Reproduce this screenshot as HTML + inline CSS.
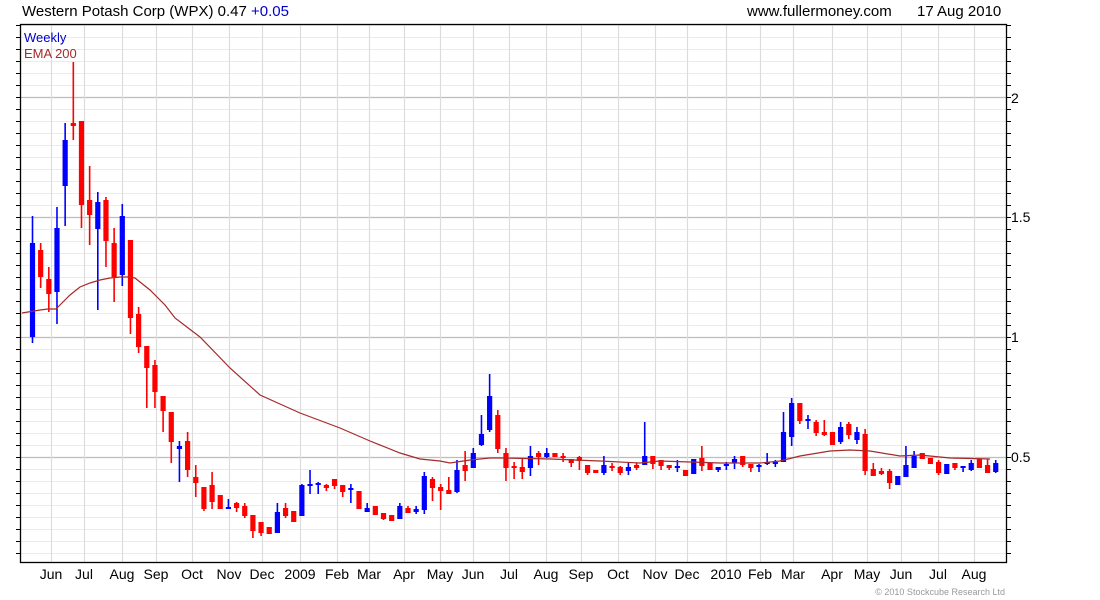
<!DOCTYPE html>
<html><head><meta charset="utf-8"><style>
body{margin:0;background:#fff;width:1100px;height:600px;overflow:hidden}
svg{display:block;font-family:"Liberation Sans",sans-serif}
</style></head><body>
<svg id="s" width="1100" height="600" xmlns="http://www.w3.org/2000/svg">
<g id="grid"></g>
<g id="candles"></g>
<polyline id="ema" fill="none" stroke="#a52a2a" stroke-width="1.2" points=""/>
<rect x="20.5" y="24.5" width="986" height="538" fill="none" stroke="#000" stroke-width="1.3"/>
<g id="ticks" stroke="#000" stroke-width="1"></g>
<text x="22" y="16" font-size="15" fill="#000">Western Potash Corp (WPX) 0.47 <tspan fill="#0000cc">+0.05</tspan></text>
<text x="747" y="16" font-size="15" fill="#000">www.fullermoney.com</text>
<text x="917" y="16" font-size="15" fill="#000">17 Aug 2010</text>
<text x="24" y="42" font-size="13" fill="#0000cc">Weekly</text>
<text x="24" y="58" font-size="13" fill="#a52a2a">EMA 200</text>
<g font-size="14" fill="#000">
<text x="1011" y="103">2</text>
<text x="1011" y="222">1.5</text>
<text x="1011" y="342">1</text>
<text x="1011" y="462">0.5</text>
</g>
<g font-size="14" fill="#000" text-anchor="middle">
<text x="51" y="579">Jun</text><text x="84" y="579">Jul</text><text x="122" y="579">Aug</text><text x="156" y="579">Sep</text><text x="192" y="579">Oct</text><text x="229" y="579">Nov</text><text x="262" y="579">Dec</text><text x="300" y="579">2009</text><text x="337" y="579">Feb</text><text x="369" y="579">Mar</text><text x="404" y="579">Apr</text><text x="440" y="579">May</text><text x="473" y="579">Jun</text><text x="509" y="579">Jul</text><text x="546" y="579">Aug</text><text x="581" y="579">Sep</text><text x="618" y="579">Oct</text><text x="655" y="579">Nov</text><text x="687" y="579">Dec</text><text x="726" y="579">2010</text><text x="760" y="579">Feb</text><text x="793" y="579">Mar</text><text x="832" y="579">Apr</text><text x="867" y="579">May</text><text x="901" y="579">Jun</text><text x="938" y="579">Jul</text><text x="974" y="579">Aug</text>
</g>
<text x="1005" y="595" font-size="9" fill="#999" text-anchor="end">© 2010 Stockcube Research Ltd</text>
</svg>
<script>
var NS="http://www.w3.org/2000/svg";
function el(p,t,a){var e=document.createElementNS(NS,t);for(var k in a)e.setAttribute(k,a[k]);p.appendChild(e);return e;}
var g=document.getElementById('grid'),tk=document.getElementById('ticks');
function yp(p){return 456.7-(p-0.5)*239.8;}
var months=[51,84,122,156,192,229,262,300,337,369,404,440,473,509,546,581,618,655,687,726,760,793,832,867,901,938,974];
for(var i=2;i<=46;i++){var p=i*0.05,y=Math.round(yp(p))+0.5;if(y<25||y>562)continue;
 var maj=(i%10==0);
 el(g,'line',{x1:21,x2:1006,y1:y,y2:y,stroke:maj?'#bdbdbd':'#ebebeb','stroke-width':maj?1.3:1});
 el(tk,'line',{x1:1006,x2:1011,y1:y,y2:y});el(tk,'line',{x1:16,x2:20,y1:y,y2:y});}
months.forEach(function(x){el(g,'line',{x1:x+.5,x2:x+.5,y1:25,y2:562,stroke:'#dcdcdc','stroke-width':1.2});});
var d=[
['b',216,343,243,337],['r',243,288,250,277],['r',267,312,279,294],['b',207,324,228,292],['b',123,226,140,186],['r',62,140,123,126],['r',121,228,121,205],['r',166,245,200,215],['b',192,310,202,229],['r',197,267,200,241],['r',228,302,243,277],['b',204,286,216,275],['r',240,334,240,318],['r',307,353,314,347],['r',346,408,346,368],['r',360,408,365,392],['r',396,432,396,411],['r',412,463,412,442],['b',441,482,446,449],['r',432,477,441,470],['r',465,497,477,483],['r',487,511,487,509],['r',472,509,485,502],['r',495,509,495,509],['b',499,509,507,509],['r',502,512,503,508],['r',503,518,506,516],['r',515,538,515,531],['r',522,536,522,533],['r',527,534,527,534],['b',503,533,512,533],['r',503,518,508,516],['r',511,522,511,522],['b',484,516,485,516],['b',470,494,484,486],['b',482,494,483,485],['r',484,491,485,488],['r',479,489,479,486],['r',485,497,485,492],['b',484,503,488,490],['r',491,509,491,509],['b',503,512,508,512],['r',506,515,506,515],['r',513,520,513,519],['r',515,521,515,521],['b',503,519,506,519],['r',506,513,508,513],['b',506,514,509,512],['b',472,514,476,510],['r',477,501,479,488],['r',484,510,487,491],['r',477,494,490,494],['b',460,493,470,492],['r',451,481,465,471],['b',448,468,453,468],['b',415,446,434,445],['b',374,432,396,430],['r',410,453,415,449],['r',448,481,453,468],['r',462,479,466,468],['r',458,479,467,472],['b',446,476,456,468],['r',451,465,453,457],['b',448,458,453,457],['r',453,457,453,457],['r',453,462,456,458],['r',459,467,459,463],['r',456,470,457,461],['r',465,475,465,473],['r',470,473,470,473],['b',456,475,465,473],['r',463,471,466,468],['r',466,475,467,473],['b',463,475,467,471],['r',463,470,465,468],['b',422,465,456,465],['r',456,469,456,464],['r',460,470,460,466],['r',465,470,465,468],['b',460,472,466,468],['r',470,476,470,476],['b',459,474,459,474],['r',446,471,458,466],['r',463,470,463,470],['b',467,472,467,470],['b',462,470,464,466],['b',456,469,459,463],['r',456,467,456,465],['r',464,472,464,468],['b',464,472,465,466],['b',453,465,462,463],['b',460,467,462,463],['b',412,462,432,462],['b',398,446,403,437],['r',403,424,403,421],['b',415,429,419,421],['r',420,436,422,433],['r',420,436,432,435],['r',432,445,432,445],['b',422,444,427,442],['r',422,439,424,435],['b',427,444,432,440],['r',429,475,434,471],['r',463,476,469,476],['r',468,475,471,474],['r',469,489,471,483],['b',476,485,476,485],['b',446,477,465,477],['b',451,468,456,468],['r',453,459,453,459],['r',458,464,458,464],['r',460,475,462,473],['b',464,474,464,474],['r',463,470,463,468],['b',466,472,466,468],['b',460,471,463,470],['r',459,468,459,468],['r',459,473,465,473],['b',460,473,463,472]];
var cg=document.getElementById('candles');
d.forEach(function(c,i){var x=32.5+i*8.163,col=c[0]=='b'?'#0000ff':'#ff0000';
 el(cg,'line',{x1:x,x2:x,y1:c[1],y2:c[2],stroke:col,'stroke-width':1.6});
 var h=Math.max(c[4]-c[3],2);
 el(cg,'rect',{x:x-2.6,y:c[3],width:5.2,height:h,fill:col});});
document.getElementById('ema').setAttribute('points',"22,313 40,310 48,309 56,309 60,305 70,295 80,287 90,283 100,280 110,278 120,277 128,277 135,278 150,290 165,305 175,318 200,337 230,368 260,395 280,404 300,413 340,428 370,441 400,453 420,459 440,461 450,463 470,460 490,458 500,458 550,459 600,461 640,463 660,461 720,463 760,463 780,461 800,456 830,451 850,450 870,451 900,456 920,455 950,458 990,459");
</script>
</body></html>
